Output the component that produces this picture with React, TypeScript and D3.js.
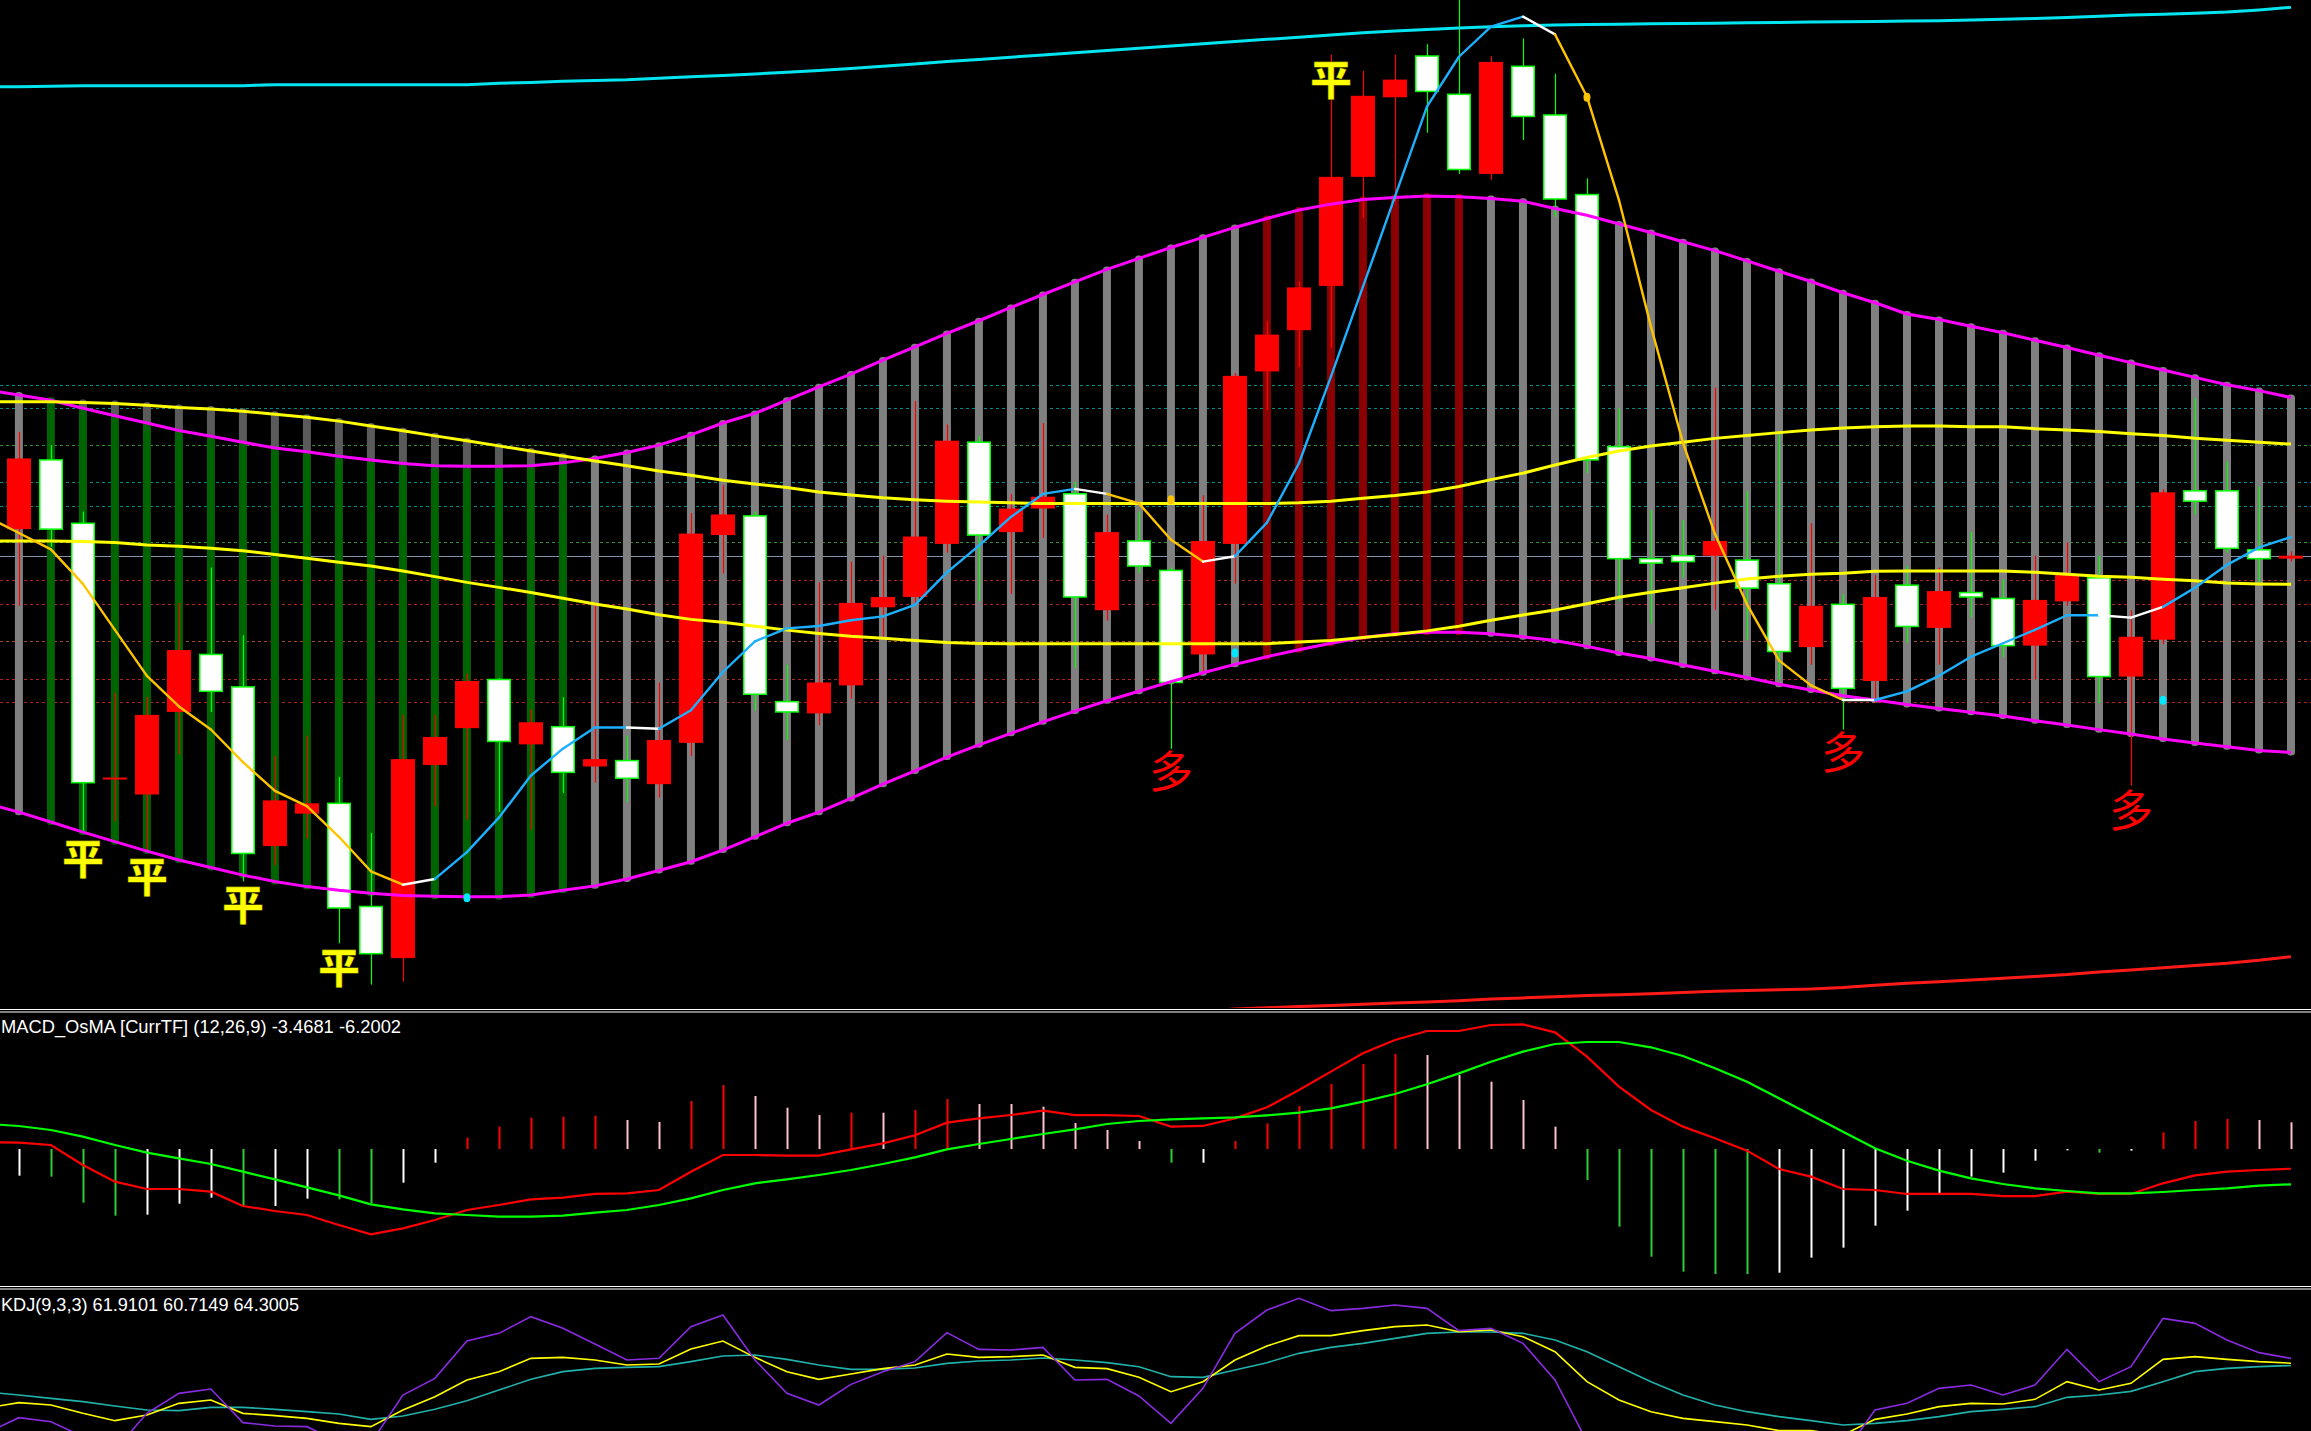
import React, { useEffect } from "react";
import * as d3 from "d3";

// ---------- DATA (price units, 72 bars) ----------
const candleOpen = [341,388,345,171.5,161,217,256,234,126,148,155,85,50,181,206,239,195,207,180,184,168,196,337,350,224,216,235,288,295,331,400,339,355,365,286,333,313,256,331,448,476,506,580,634,662,636,582,655,622,568,397,321,323,323,320,304,261,290,238,303,274,298,294,262,292,308,241,266,367,367,327,321];
const candleHigh = [407,398,353,230,227,291,315,269,187,201,173,135,215,215,243,240,219,227,290,201,237,352,371,353,249,305,319,323,428,412,404,365,413,373,351,353,315,364,447,482,509,663,652,663,670,705,662,674,650,579,423,354,347,437,367,406,345,297,310,316,315,339,307,323,332,323,286,368,430,387,370,326];
const candleLow = [289,329,135,143,122,188,217,102,113,131,60,32,34,153,144,149,137,162,169,156,159,187,311,218,198,208,226,267,290,325,292,297,335,247,279,311,192,244,304,422,451,464,552,563,610,582,578,605,553,379,292,277,308,286,266,239,249,205,223,264,249,281,254,239,289,223,167,263,351,325,305,319];
const candleClose = [389,341,169,172.5,215,259,231,121,157,155,84,53,185,200,238,197,210,176,185,172,198,338,351,229,217,237,291,295,336,401,337,355,363,295,339,316,237,333,445,473,505,580,635,646,638,585,658,621,565,388,321,318,319,333,301,258,289,233,295,275,299,295,262,293,310,241,268,366,360,328,321,323];

const bandUpper = [432,428.5,423,418,413,408,404,400,396,393.5,390.5,388,385.5,384,383.7,383.7,384,386,389,393,398,405,413,419.5,428.5,437.6,446.2,455.7,464.7,473.8,482.4,491.4,500.2,508.8,517.2,524.7,532.1,539,545.7,551.8,557.5,561.5,564.7,566,567,566.5,565.4,563.4,558.6,554,548,542.3,536,530,523,516,509,501.4,494.6,487,483.3,478.7,474.2,469.2,464.3,459,454,449,444,439,435,430.3];
const bandLower = [149,142.3,135.5,129,122.6,116.6,111.5,106.3,102,98.5,96,94,92.5,92,91.7,91.7,92.8,96,99,103.7,109.4,115.4,123.3,132.3,141.5,149,158.3,168,177,186.4,194.7,202.5,210.3,217.6,224.6,231,237.6,243.6,249.3,254.5,259.2,263.6,267.5,270,271.1,271.1,270,268,265.4,261.5,257,253.2,248.8,244.6,240.4,235.8,231.9,228,225.1,222,219.4,216.8,214.2,211,208.2,205,202,198.6,196,193.4,190.8,189.5];
// bar state: g = gray, n = green, r = dark red
const bandState = "gnnnnnnnnnnnnnnnnngggggggggggggggggggggrrrrrrrgggggggggggggggggggggggggg".split("");

const maSlowUpper = [427.4,427.4,427,426.2,425,423.5,422.6,421,419,417,414.3,411,407.7,404.3,401,397.5,394,390.7,387.3,384,380.5,377.6,374.2,371.7,369.2,366.2,364.1,362.3,361,360,359.4,358.9,358.4,358.4,358.4,358.4,358.4,358.4,358.4,358.4,358.9,360,362,363.8,366.2,370,374.6,379,384.5,389.6,394,397.4,400,402.6,404.5,406.5,408.3,409.6,410.4,411,411,410.4,410.4,409.2,408.3,407.3,405.8,404.5,402.6,401.4,400,398.7];
const maSlowLower = [333,333,332.6,332,330.2,329.4,328.1,326.3,323.8,321.2,318.6,316,312.6,308.8,304.9,301.5,298,294.1,290.2,286.8,283,279.8,277.8,275.2,272.5,270.2,268.3,267,265.5,264.1,263.5,263.3,263.3,263.3,263.3,263.3,263.3,263.3,263.3,263.3,264.4,265.4,267.5,269.6,272,275.2,279.2,282.8,286.2,290.4,294.8,298.2,301.3,304.4,307.2,309,310.4,311.1,312.4,312.7,312.7,312.7,312.7,311.7,310.4,309,308.3,307,306,304.4,303.8,303.6];
const maFast = [338.4,327.3,303.9,272.7,241.5,220.7,205.1,183,163.5,153.1,132.3,108.9,99.8,103.7,121.9,145.3,173.9,192.1,206.4,206.4,205.6,218.1,244.1,264.9,273.7,275.3,279.2,281.8,289.6,311.7,329.8,349.3,364.9,368.3,364.9,358.5,333.8,319,322.6,345.4,385.7,444.5,505.5,566.6,627.6,661.5,682,688.7,676.7,634.4,564.3,478.4,399.6,337.7,290,252,235,225.1,225.1,231,241.5,254.5,263.6,272.7,282.6,282.6,281,288.3,301.3,316.8,328.6,335.6];
// segment trend: d = down (gold), u = up (blue), t = turn (white)
const fastTrend = "ddddddddddddtuuuuuutuuuuuuuuuuuuutdddtuuuuuuuuutdddddddddtuuuuuuuttuuuu".split("");

const envUpper = [641.2,641.5,641.9,641.9,641.9,641.9,641.9,641.9,642.5,642.5,642.5,642.5,642.5,642.5,642.5,643.5,644,644.8,645.4,645.9,646.9,648,648.8,649.8,651,652.2,653.5,655,656.5,658.2,659.7,661.2,662.7,664.2,665.7,667.2,668.8,670.3,671.8,673.3,674.8,676.3,677.8,679,680,681,681.9,682.5,683,683.3,683.6,683.9,684.1,684.3,684.5,684.7,685,685.2,685.4,685.7,686,686.4,686.9,687.5,688.2,689,689.8,690.4,691,691.8,693.2,695];
const envLowerStart = 37;
const envLower = [14,15.5,16.3,17.1,17.9,18.7,19.5,20.3,21.1,22.2,23,23.8,24.6,25.2,25.8,26.6,27.5,28,28.5,29,30,31.5,33,34,35.2,36.4,37.6,38.8,40.5,42,43.5,45,46.5,48.5,51];

// values of the bar just off the left edge (lines run in from there)
const envUpperLead = 641;
const bandUpperLead = 435.5;
const bandLowerLead = 155;
const maSlowUpperLead = 427.6;
const maSlowLowerLead = 333;
const maFastLead = 349.5;
const macdMainLead = 1.2;
const macdSignalLead = 4.4;
const kdjKLead = 39.5;
const kdjDLead = 47.5;
const kdjJLead = 27;

const goldDotBars = [36, 49];
const goldDotPrices = [361, 634];
const cyanDotBars = [14, 38, 67];
const cyanDotPrices = [91, 257, 225];

const pingBars = [2, 4, 7, 10, 41];
const pingPrices = [119, 107, 88, 45, 648];
const duoBars = [36, 57, 66];
const duoPrices = [178, 191, 152];

const tealLevels = [439, 423.5, 372.7, 357];
const greenLevels = [398.4, 332];
const grayLevel = 322.5;
const redLevels = [306.2, 290.4, 265.4, 239.4, 223.8];

const macdHist = [-4.68,-4.85,-9.42,-11.70,-11.52,-9.59,-8.54,-10.12,-10.00,-8.71,-8.83,-9.53,-5.91,-2.40,1.99,3.92,5.50,5.67,5.85,5.09,4.74,8.42,11.23,9.30,7.25,5.96,6.37,6.37,6.84,8.77,7.89,7.89,7.43,4.56,3.33,1.40,-2.40,-2.40,1.40,4.50,7.54,11.40,14.91,16.67,16.49,12.98,11.81,8.60,3.92,-5.44,-13.63,-18.89,-21.52,-21.93,-21.95,-21.70,-19.06,-17.31,-13.45,-10.82,-7.78,-4.85,-4.15,-2.05,-0.23,-0.64,-0.29,2.92,4.91,5.26,5.09,4.68];
const macdMain = [1.11,0.70,-2.81,-5.73,-7.02,-7.02,-7.49,-10.00,-10.88,-11.58,-13.33,-14.97,-13.92,-12.46,-10.70,-9.82,-8.83,-8.54,-7.89,-7.78,-7.19,-3.98,-1.05,-1.05,-1.17,-1.17,-0.06,0.99,2.40,4.62,5.38,5.96,6.73,5.96,5.96,5.79,3.92,4.04,5.38,7.31,10.35,13.57,16.78,19.12,20.70,20.70,21.75,21.87,20.47,16.20,10.94,6.84,3.92,1.87,-0.29,-3.51,-4.85,-7.02,-7.19,-7.89,-7.89,-7.89,-8.25,-8.25,-7.49,-7.89,-7.89,-6.02,-4.62,-3.98,-3.68,-3.4681];
const macdSignal = [4.04,3.33,2.16,0.70,-0.64,-1.64,-2.63,-3.98,-5.32,-6.73,-8.13,-9.71,-10.58,-11.29,-11.58,-11.87,-11.87,-11.70,-11.17,-10.70,-9.82,-8.65,-7.19,-6.02,-5.32,-4.56,-3.68,-2.63,-1.46,-0.06,0.88,1.75,2.63,3.45,4.39,4.91,5.20,5.38,5.56,5.91,6.37,7.13,8.30,9.65,11.35,13.27,15.32,17.08,18.42,18.77,18.77,17.84,16.32,14.15,11.81,8.89,5.96,3.04,0.12,-2.05,-3.80,-5.15,-6.14,-6.90,-7.37,-7.78,-7.78,-7.54,-7.19,-6.90,-6.43,-6.2002];

const kdjK = [42.17,41.0,36.83,33.17,36.0,41.83,43.5,36.83,35.67,34.33,31.83,30.17,38.5,45.17,53.5,57.67,64.33,64.83,63.5,61.0,61.5,69.0,73.0,64.83,57.67,53.83,56.5,59.17,61.0,66.5,64.83,65.17,66.0,59.83,59.17,54.83,47.67,52.67,63.5,70.5,75.67,75.67,78.17,80.17,81.0,77.67,78.5,75.17,67.67,52.67,43.5,37.67,34.33,32.67,31.0,28.17,28.17,26.0,33.83,36.5,40.17,41.83,41.5,43.83,52.67,48.5,51.83,63.83,65.17,63.83,62.67,61.9101];
const kdjD = [46.0,44.33,42.67,40.5,38.5,38.17,39.83,39.83,38.83,37.67,36.5,33.83,35.5,38.83,43.17,48.5,53.83,57.67,59.33,59.83,60.17,62.67,65.5,66.0,63.83,61.0,58.83,58.83,59.5,61.83,63.0,63.5,64.5,63.5,62.17,60.17,55.17,54.83,58.5,62.17,66.83,69.83,71.83,74.33,76.83,77.5,77.5,76.83,73.5,67.67,60.17,52.67,46.0,41.0,37.67,35.17,33.17,31.0,31.83,33.17,35.17,37.67,38.83,40.17,44.83,46.0,47.83,52.67,57.67,59.33,60.17,60.7149];
const kdjJ = [34.67,32.67,25.2,18.5,36.83,46.83,49.0,32.17,30.5,30.17,22.5,22.0,46.0,54.33,73.0,76.83,85.17,79.33,71.5,63.5,64.33,80.17,86.0,63.5,46.83,41.0,51.33,57.67,62.67,77.17,68.83,68.5,69.83,53.5,53.83,45.5,31.83,49.33,76.83,88.5,94.33,88.17,89.33,91.0,89.33,78.17,79.33,71.83,53.5,22.7,10.2,7.7,11.0,16.0,17.7,14.2,18.2,16.0,38.5,41.83,49.33,51.0,46.0,51.0,68.83,52.67,60.17,84.33,81.83,73.5,67.17,64.3005];

const macdLabel = "MACD_OsMA [CurrTF] (12,26,9) -3.4681 -6.2002";
const kdjLabel = "KDJ(9,3,3) 61.9101 60.7149 64.3005";

// ---------- LAYOUT / STYLE ----------
const W = 2311;
const H = 1431;
const MAIN_BOTTOM = 1008;
const MACD_TOP = 1013;
const MACD_BOTTOM = 1285;
const KDJ_TOP = 1290;

const bandColor: Record<string, string> = { g: "#808080", n: "#006400", r: "#8b0000" };
const trendColor: Record<string, string> = { d: "#ffc400", u: "#1cb0ff", t: "#ffffff" };

export default function App() {
  useEffect(() => {
    document.body.style.margin = "0";
    document.body.style.background = "#000";
  }, []);

  const n = candleOpen.length;
  const x = d3.scaleLinear().domain([0, n - 1]).range([18.9, 2291]);
  const yMain = d3.scaleLinear().domain([700, 0]).range([0, 1031.8]);
  const yMacd = d3.scaleLinear().domain([-20, 20]).range([1263, 1035]);
  const yKdj = d3.scaleLinear().domain([0, 100]).range([1487, 1287]);

  // lines include the lead-in value at bar index -1
  const leadLine = (scale: (v: number) => number) =>
    d3.line<number>().x((_, i) => x(i - 1)).y((d) => scale(d));
  const mainLine = leadLine(yMain);
  const macdLine = leadLine(yMacd);
  const kdjLine = leadLine(yKdj);
  const envLowerLine = d3.line<number>().x((_, i) => x(i + envLowerStart)).y((d) => yMain(d));

  const fastAll = [maFastLead, ...maFast];
  const trendAll = ["d", ...fastTrend];

  const histColor = (i: number) => {
    const v = macdHist[i];
    const p = i > 0 ? macdHist[i - 1] : undefined;
    if (v >= 0) return p !== undefined && v > p ? "#ff0000" : "#ffc0cb";
    return p !== undefined && v < p ? "#32cd32" : "#ffffff";
  };

  const barW = 8;
  const bodyW = 24;

  return (
    <div style={{ position: "absolute", left: 0, top: 0, width: W, height: H, background: "#000" }}>
      <svg width={W} height={H} viewBox={`0 0 ${W} ${H}`} style={{ display: "block" }}>
        <defs>
          <clipPath id="clipMain"><rect x={0} y={0} width={W} height={MAIN_BOTTOM} /></clipPath>
          <clipPath id="clipMacd"><rect x={0} y={MACD_TOP} width={W} height={MACD_BOTTOM - MACD_TOP} /></clipPath>
          <clipPath id="clipKdj"><rect x={0} y={KDJ_TOP} width={W} height={H - KDJ_TOP} /></clipPath>
        </defs>
        <rect x={0} y={0} width={W} height={H} fill="#000" />

        {/* ===== MAIN PANEL ===== */}
        <g clipPath="url(#clipMain)">
          {tealLevels.map((p, k) => (
            <line key={"tl" + k} x1={0} x2={W} y1={Math.round(yMain(p)) + 0.5} y2={Math.round(yMain(p)) + 0.5} stroke="#008b8b" strokeWidth={1} strokeDasharray="3,3" />
          ))}
          {greenLevels.map((p, k) => (
            <line key={"gl" + k} x1={0} x2={W} y1={Math.round(yMain(p)) + 0.5} y2={Math.round(yMain(p)) + 0.5} stroke="#2e8b3a" strokeWidth={1} strokeDasharray="3,3" />
          ))}
          <line x1={0} x2={W} y1={Math.round(yMain(grayLevel)) + 0.5} y2={Math.round(yMain(grayLevel)) + 0.5} stroke="#8090a8" strokeWidth={1} />
          {redLevels.map((p, k) => (
            <line key={"rl" + k} x1={0} x2={W} y1={Math.round(yMain(p)) + 0.5} y2={Math.round(yMain(p)) + 0.5} stroke={k === 2 ? "#a0442d" : "#b22222"} strokeWidth={1} strokeDasharray="3,3" />
          ))}

          {/* band histogram */}
          {bandUpper.map((u, i) => {
            const top = yMain(u);
            const bot = yMain(bandLower[i]);
            const slow = yMain(maSlowUpper[i]);
            const cx = x(i) - barW / 2;
            return (
              <g key={"b" + i}>
                {slow < top && (
                  <rect x={cx} y={slow - 3} width={barW} height={top - slow + 6} rx={3.5} fill="#5a5a5a" />
                )}
                <rect x={cx} y={slow < top ? top : top - 3} width={barW} height={bot - top + (slow < top ? 3 : 6)} rx={3.5} fill={bandColor[bandState[i]]} />
              </g>
            );
          })}

          {/* candles */}
          {candleOpen.map((o, i) => {
            const c = candleClose[i];
            const up = c >= o;
            const yT = yMain(Math.max(o, c));
            const yB = yMain(Math.min(o, c));
            const h = Math.max(2, yB - yT);
            const cx = Math.round(x(i));
            return (
              <g key={"c" + i}>
                <line x1={cx + 0.5} x2={cx + 0.5} y1={yMain(candleHigh[i])} y2={yMain(candleLow[i])} stroke={up ? "#ff0000" : "#00ff00"} strokeWidth={1.2} />
                {up ? (
                  <rect x={cx - bodyW / 2} y={yT} width={bodyW} height={h} fill="#ff0000" />
                ) : (
                  <rect x={cx - bodyW / 2 + 0.75} y={yT} width={bodyW - 1.5} height={h} fill="#ffffff" stroke="#00ff00" strokeWidth={1.5} />
                )}
              </g>
            );
          })}

          {/* envelope / band / MA lines */}
          <path d={mainLine([envUpperLead, ...envUpper]) || ""} fill="none" stroke="#00e5f0" strokeWidth={3} />
          <path d={envLowerLine(envLower) || ""} fill="none" stroke="#ff1a1a" strokeWidth={3} />
          <path d={mainLine([bandUpperLead, ...bandUpper]) || ""} fill="none" stroke="#ff00ff" strokeWidth={3} />
          <path d={mainLine([bandLowerLead, ...bandLower]) || ""} fill="none" stroke="#ff00ff" strokeWidth={3} />
          <path d={mainLine([maSlowUpperLead, ...maSlowUpper]) || ""} fill="none" stroke="#ffff00" strokeWidth={3} />
          <path d={mainLine([maSlowLowerLead, ...maSlowLower]) || ""} fill="none" stroke="#ffff00" strokeWidth={3} />

          {/* fast MA, colored by trend */}
          {trendAll.map((t, s) => (
            <line key={"f" + s} x1={x(s - 1)} y1={yMain(fastAll[s])} x2={x(s)} y2={yMain(fastAll[s + 1])} stroke={trendColor[t]} strokeWidth={2.4} strokeLinecap="round" />
          ))}

          {goldDotBars.map((b, k) => (
            <ellipse key={"gd" + k} cx={x(b)} cy={yMain(goldDotPrices[k])} rx={3.5} ry={4.5} fill="#ffc400" />
          ))}
          {cyanDotBars.map((b, k) => (
            <ellipse key={"cd" + k} cx={x(b)} cy={yMain(cyanDotPrices[k])} rx={3.5} ry={4.5} fill="#00e8ff" />
          ))}

          {pingBars.map((b, k) => (
            <text key={"p" + k} x={x(b)} y={yMain(pingPrices[k])} textAnchor="middle" dominantBaseline="central" fontFamily="'Noto Sans CJK SC', sans-serif" fontWeight={700} fontSize={41} fill="#ffff00" stroke="#7a7a00" strokeWidth={1.2} paintOrder="stroke">平</text>
          ))}
          {duoBars.map((b, k) => (
            <text key={"d" + k} x={x(b)} y={yMain(duoPrices[k])} textAnchor="middle" dominantBaseline="central" fontFamily="'Noto Sans CJK SC', sans-serif" fontWeight={400} fontSize={44} fill="#ff0000">多</text>
          ))}
        </g>

        {/* separators */}
        <line x1={0} x2={W} y1={1009.5} y2={1009.5} stroke="#ffffff" strokeWidth={1.2} />
        <line x1={0} x2={W} y1={1012} y2={1012} stroke="#ffffff" strokeWidth={1.2} />
        <line x1={0} x2={W} y1={1286.5} y2={1286.5} stroke="#ffffff" strokeWidth={1.2} />
        <line x1={0} x2={W} y1={1289} y2={1289} stroke="#ffffff" strokeWidth={1.2} />

        {/* ===== MACD PANEL ===== */}
        <g clipPath="url(#clipMacd)">
          {macdHist.map((v, i) => (
            <line key={"h" + i} x1={Math.round(x(i)) + 0.5} x2={Math.round(x(i)) + 0.5} y1={yMacd(0)} y2={yMacd(v)} stroke={histColor(i)} strokeWidth={2} />
          ))}
          <path d={macdLine([macdMainLead, ...macdMain]) || ""} fill="none" stroke="#ff0000" strokeWidth={2.2} />
          <path d={macdLine([macdSignalLead, ...macdSignal]) || ""} fill="none" stroke="#00ff00" strokeWidth={2.2} />
        </g>
        <text x={1} y={1033} fontFamily="'Liberation Sans', Arial, sans-serif" fontSize={18} fill="#ffffff" textLength={400} lengthAdjust="spacingAndGlyphs">{macdLabel}</text>

        {/* ===== KDJ PANEL ===== */}
        <g clipPath="url(#clipKdj)">
          <path d={kdjLine([kdjDLead, ...kdjD]) || ""} fill="none" stroke="#20b2aa" strokeWidth={1.6} />
          <path d={kdjLine([kdjKLead, ...kdjK]) || ""} fill="none" stroke="#ffff00" strokeWidth={1.6} />
          <path d={kdjLine([kdjJLead, ...kdjJ]) || ""} fill="none" stroke="#8a2be2" strokeWidth={1.6} />
        </g>
        <text x={1} y={1311} fontFamily="'Liberation Sans', Arial, sans-serif" fontSize={18} fill="#ffffff" textLength={298} lengthAdjust="spacingAndGlyphs">{kdjLabel}</text>
      </svg>
    </div>
  );
}
